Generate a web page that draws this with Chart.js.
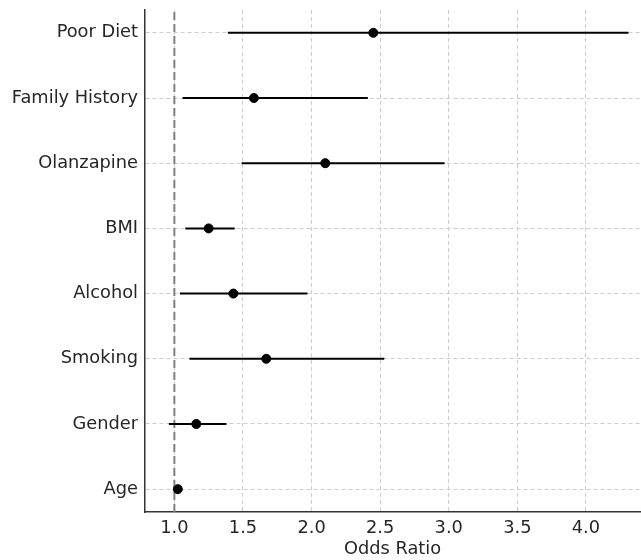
<!DOCTYPE html>
<html>
<head>
<meta charset="utf-8">
<script src="https://cdn.jsdelivr.net/npm/chart.js@4"></script>
<style>
  html, body { margin: 0; padding: 0; background: #fff; }
  #wrap { width: 641px; height: 560px; }
</style>
</head>
<body>
<div id="wrap"><canvas id="myChart" width="641" height="560"></canvas></div>
<script>
// forest plot data, bottom row first
const factors = ['Age', 'Gender', 'Smoking', 'Alcohol', 'BMI', 'Olanzapine', 'Family History', 'Poor Diet'];
const oddsRatio = [1.025, 1.16, 1.67, 1.43, 1.25, 2.10, 1.58, 2.45];
const ciLow = [1.01, 0.96, 1.11, 1.04, 1.08, 1.49, 1.06, 1.39];
const ciHigh = [1.04, 1.38, 2.53, 1.97, 1.44, 2.97, 2.41, 4.31];
const xTicks = [1.0, 1.5, 2.0, 2.5, 3.0, 3.5, 4.0];
const refValue = 1;

Chart.defaults.font.family = "'DejaVu Sans', sans-serif";
Chart.defaults.font.size = 17.8;
Chart.defaults.color = '#262626';

var ctx = document.getElementById('myChart').getContext('2d');

var yMin = -0.35, yMax = factors.length - 1 + 0.35;

var datasets = [];

// points
datasets.push({
  data: factors.map((f, i) => ({x: oddsRatio[i], y: i})),
  backgroundColor: '#000',
  borderColor: '#000',
  pointRadius: 4.5,
  showLine: false,
  order: 0
});

// confidence intervals
factors.forEach((f, i) => {
  datasets.push({
    data: [{x: ciLow[i], y: i}, {x: ciHigh[i], y: i}],
    borderColor: '#000',
    borderWidth: 2,
    pointRadius: 0,
    showLine: true,
    order: 1
  });
});

// reference line at OR = 1
datasets.push({
  data: [{x: refValue, y: yMin}, {x: refValue, y: yMax}],
  borderColor: '#808080',
  borderWidth: 2,
  borderDash: [8, 4],
  pointRadius: 0,
  showLine: true,
  order: 2
});

function noPad(scale) {
  scale.paddingTop = 0;
  scale.paddingBottom = 0;
  scale.paddingLeft = 0;
  scale.paddingRight = 0;
}

var myChart = new Chart(ctx, {
  type: 'scatter',
  data: { datasets: datasets },
  options: {
    responsive: false,
    animation: false,
    layout: { autoPadding: false, padding: { top: 10, right: 1, left: 0, bottom: 0 } },
    plugins: { legend: { display: false }, tooltip: { enabled: false } },
    scales: {
      x: {
        type: 'linear',
        min: 0.786,
        max: 4.394,
        afterBuildTicks: (scale) => { scale.ticks = xTicks.map(v => ({value: v})); },
        afterFit: (scale) => { scale.height = 48; noPad(scale); },
        ticks: {
          padding: 6,
          callback: (v) => Number(v).toFixed(1)
        },
        grid: { color: '#cccccc', lineWidth: 1, drawTicks: false },
        border: { display: true, color: '#333', width: 1.5, dash: [4, 3] },
        title: { display: true, text: 'Odds Ratio', padding: { top: 0, bottom: 0 } }
      },
      y: {
        type: 'linear',
        min: yMin,
        max: yMax,
        afterBuildTicks: (scale) => { scale.ticks = factors.map((f, i) => ({value: i})); },
        afterFit: (scale) => { scale.width = 145; noPad(scale); },
        ticks: {
          padding: 7,
          callback: (v) => factors[v]
        },
        grid: { color: '#cccccc', lineWidth: 1, drawTicks: false },
        border: { display: true, color: '#333', width: 1.5, dash: [4, 3] }
      }
    }
  }
});
</script>
</body>
</html>
